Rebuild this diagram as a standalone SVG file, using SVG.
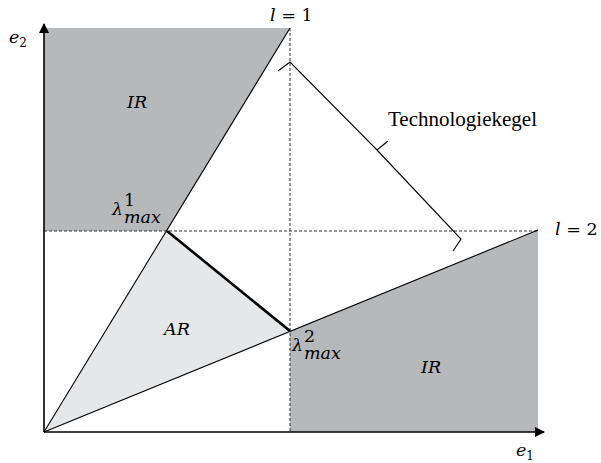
<svg xmlns="http://www.w3.org/2000/svg" width="601" height="463" viewBox="0 0 601 463">
<defs>
<style>
.ax{stroke:#000;stroke-width:1.6;fill:none}
.dash{stroke:#333;stroke-width:1;stroke-dasharray:3,2;fill:none}
.ln{stroke:#000;stroke-width:1.1;fill:none}
.m{font-family:"DejaVu Serif","Liberation Serif",serif;font-size:17.5px;fill:#000}
.i{font-style:italic}
.t{font-family:"Liberation Serif","DejaVu Serif",serif;font-size:21px;fill:#000}
</style>
<marker id="arr" markerWidth="10" markerHeight="10" refX="9" refY="5" orient="auto" markerUnits="userSpaceOnUse">
<path d="M0,0 L10,5 L0,10 z" fill="#000"/>
</marker>
</defs>
<g id="regions">
<polygon id="ir-top" points="44,28 290,28 167,231 44,231" fill="#b7b8ba"/>
<polygon id="ir-bottom" points="290,331 538,230 538,432 290,432" fill="#b7b8ba"/>
<polygon id="ar" points="44,432 167,231 290,331" fill="#e6e7e9"/>
</g>
<g id="connectors">
<line class="dash" x1="290" y1="28" x2="290" y2="432"/>
<line class="dash" x1="44" y1="231" x2="538" y2="231"/>
<line class="ln" x1="44" y1="432" x2="290" y2="28"/>
<line class="ln" x1="44" y1="432" x2="538" y2="230"/>
<line x1="167" y1="231" x2="290" y2="331" stroke="#000" stroke-width="2.6"/>
<line class="ax" x1="44" y1="432" x2="44" y2="24" marker-end="url(#arr)"/>
<line class="ax" x1="44" y1="432" x2="544" y2="432" marker-end="url(#arr)"/>
<path class="ln" d="M278,71 L290,62 L377,150 L388,141 M377,150 L461,239 L453,251"/>
</g>
<g id="labels">
<text class="m" x="9" y="43"><tspan class="i">e</tspan><tspan font-size="12" dy="4">2</tspan></text>
<text class="m" x="516" y="456"><tspan class="i">e</tspan><tspan font-size="12" dy="4">1</tspan></text>
<text class="m" x="270" y="21"><tspan class="i">l</tspan> = 1</text>
<text class="m" x="555" y="235"><tspan class="i">l</tspan> = 2</text>
<text class="m i" x="127" y="108">IR</text>
<text class="m i" x="421" y="373">IR</text>
<text class="m i" x="164" y="335">AR</text>
<text class="m i" x="112" y="215">λ</text>
<text class="m" x="124" y="206" font-size="11">1</text>
<text class="m i" x="124" y="223" font-size="13.5">max</text>
<text class="m i" x="292" y="351">λ</text>
<text class="m" x="304" y="342" font-size="11">2</text>
<text class="m i" x="304" y="359" font-size="13.5">max</text>
<text class="t" x="388" y="126">Technologiekegel</text>
</g>
</svg>
